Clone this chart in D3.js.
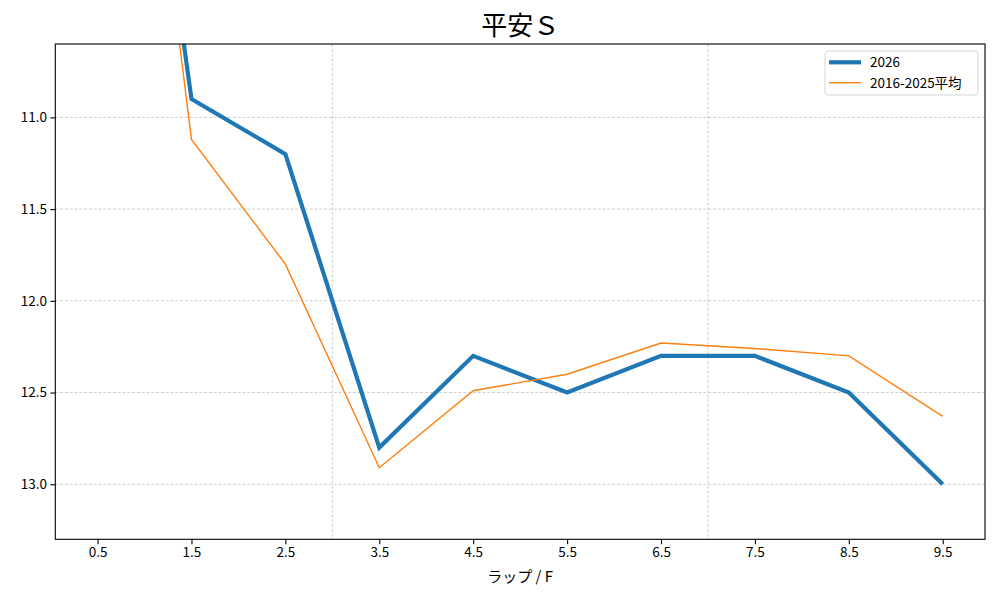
<!DOCTYPE html>
<html><head><meta charset="utf-8">
<script src="https://cdn.jsdelivr.net/npm/d3@7"></script>
<style>body{margin:0;background:#fff;} text{font-family:"Noto Sans CJK JP","DejaVu Sans",sans-serif;}</style>
</head><body>
<svg id="c" width="1000" height="600"></svg>
<script>
const laps = [0.5,1.5,2.5,3.5,4.5,5.5,6.5,7.5,8.5,9.5];
const series2026 = [7.2,10.9,11.2,12.8,12.3,12.5,12.3,12.3,12.5,13.0];
const seriesAvg = [7.0,11.12,11.80,12.91,12.49,12.40,12.23,12.26,12.30,12.63];
const yTicks = [11.0,11.5,12.0,12.5,13.0];
const vLines = [3,7];
const title = "平安Ｓ";
const xLabel = "ラップ / F";
const seriesNames = ["2026","2016-2025平均"];

const svg = d3.select("#c");
const L=55.3, R=985, T=44, B=539.3;
const x = d3.scaleLinear().domain([0.05,9.95]).range([L,R]);
const y = d3.scaleLinear().domain([10.6,13.3]).range([T,B]);

svg.append("defs").append("clipPath").attr("id","clip")
  .append("rect").attr("x",L).attr("y",T).attr("width",R-L).attr("height",B-T);

// grid
svg.append("g").selectAll("line").data(yTicks).join("line")
  .attr("x1",L).attr("x2",R).attr("y1",d=>y(d)).attr("y2",d=>y(d))
  .attr("stroke","#b8b8b8").attr("stroke-width",0.7).attr("stroke-dasharray","3,1.8");
svg.append("g").selectAll("line").data(vLines).join("line")
  .attr("y1",T).attr("y2",B).attr("x1",d=>x(d)).attr("x2",d=>x(d))
  .attr("stroke","#b8b8b8").attr("stroke-width",0.7).attr("stroke-dasharray","3,1.8");

const line = d3.line().x((d,i)=>x(laps[i])).y(d=>y(d));
const g = svg.append("g").attr("clip-path","url(#clip)");
g.append("path").datum(series2026).attr("d",line).attr("fill","none")
  .attr("stroke","#1f77b4").attr("stroke-width",4.2).attr("stroke-linejoin","miter");
g.append("path").datum(seriesAvg).attr("d",line).attr("fill","none")
  .attr("stroke","#ff7f0e").attr("stroke-width",1.4);

// axes
const xa = svg.append("g").attr("transform",`translate(0,${B})`)
  .call(d3.axisBottom(x).tickValues(laps).tickFormat(d3.format(".1f")).tickSize(4.9).tickPadding(3.5));
const ya = svg.append("g").attr("transform",`translate(${L},0)`)
  .call(d3.axisLeft(y).tickValues(yTicks).tickFormat(d3.format(".1f")).tickSize(4.9).tickPadding(3.5));
[xa,ya].forEach(a=>{
  a.select(".domain").remove();
  a.selectAll("line").attr("stroke","#000").attr("stroke-width",1.1);
  a.selectAll("text").attr("font-size","13.5px").attr("fill","#000")
    .style("font-family",'"Noto Sans CJK JP","DejaVu Sans",sans-serif');
});
svg.append("rect").attr("x",L).attr("y",T).attr("width",R-L).attr("height",B-T)
  .attr("fill","none").attr("stroke","#000").attr("stroke-width",1.1);

svg.append("text").attr("x",(L+R)/2).attr("y",35).attr("text-anchor","middle")
  .attr("font-size","26px").attr("fill","#000").text(title);
svg.append("text").attr("x",(L+R)/2).attr("y",582).attr("text-anchor","middle")
  .attr("font-size","15px").attr("fill","#000").text(xLabel);

// legend
const lg = svg.append("g");
lg.append("rect").attr("x",825).attr("y",51).attr("width",153).attr("height",44).attr("rx",3)
  .attr("fill","#fff").attr("fill-opacity",0.8).attr("stroke","#d5d5d5").attr("stroke-width",1);
const cols=["#1f77b4","#ff7f0e"], ws=[4.2,1.4], ys=[62.3,82.7];
seriesNames.forEach((n,i)=>{
  lg.append("line").attr("x1",829).attr("x2",861).attr("y1",ys[i]).attr("y2",ys[i])
    .attr("stroke",cols[i]).attr("stroke-width",ws[i]);
  lg.append("text").attr("x",870).attr("y",ys[i]).attr("dy","0.36em")
    .attr("font-size","13.5px").attr("fill","#000").text(n);
});
</script>
</body></html>
